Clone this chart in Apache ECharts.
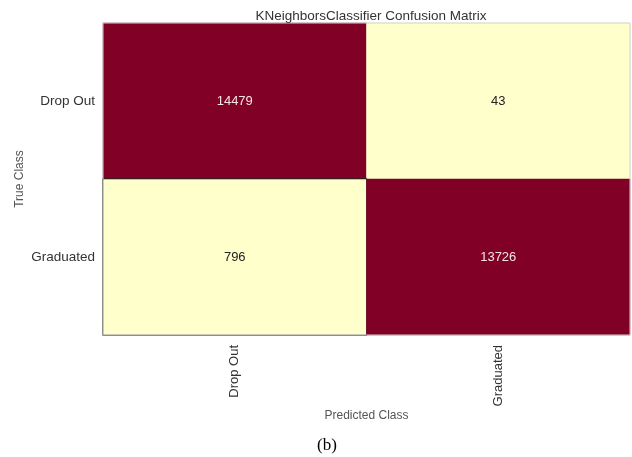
<!DOCTYPE html>
<html>
<head>
<meta charset="utf-8">
<script src="https://cdn.jsdelivr.net/npm/echarts@6/dist/echarts.min.js"></script>
<style>
  html, body { margin: 0; padding: 0; background: #fff; }
  #chart { width: 632px; height: 457px; }
</style>
</head>
<body>
<div id="chart"></div>
<script>
// Class labels (rows = true class, columns = predicted class)
const classes = ['Drop Out', 'Graduated'];
// Confusion matrix counts, one row per true class
const rowDropOut = [14479, 43];
const rowGraduated = [796, 13726];
const matrix = [rowDropOut, rowGraduated];

const DARK = '#800026';
const LIGHT = '#ffffcc';
const threshold = 5000;

const cells = [];
matrix.forEach((row, yi) => {
  row.forEach((v, xi) => {
    const item = {
      value: [xi, yi, v],
      label: { color: v >= threshold ? '#f3e3e7' : '#222' }
    };
    if (xi === 0 && yi === 1) {
      item.itemStyle = { borderColor: '#111', borderWidth: 1 };
    }
    cells.push(item);
  });
});

const chart = echarts.init(document.getElementById('chart'), null, { renderer: 'canvas' });
chart.setOption({
  animation: false,
  backgroundColor: '#fff',
  textStyle: { fontFamily: 'Liberation Sans, Arial, sans-serif' },
  title: [
    {
      text: 'KNeighborsClassifier Confusion Matrix',
      left: 366, top: 4, textAlign: 'center',
      textStyle: { fontSize: 13.5, fontWeight: 'normal', color: '#333', fontFamily: 'Liberation Sans' }
    },
    {
      text: '(b)',
      left: 322, top: 432, textAlign: 'center',
      textStyle: { fontSize: 17, fontWeight: 'normal', color: '#000', fontFamily: 'Liberation Serif' }
    }
  ],
  grid: {
    left: 103, top: 23, right: 2, bottom: 122, z: 5,
    outerBoundsMode: 'none',
    show: true, borderColor: '#d0d0d0', borderWidth: 1, backgroundColor: 'transparent'
  },
  xAxis: {
    type: 'category',
    data: classes,
    name: 'Predicted Class',
    nameLocation: 'middle',
    nameGap: 75,
    nameMoveOverlap: false,
    nameTextStyle: { fontSize: 12, color: '#555' },
    axisLine: { show: false },
    axisTick: { show: false },
    splitLine: { show: false },
    axisLabel: { rotate: 90, fontSize: 13, color: '#333', margin: 10 }
  },
  yAxis: {
    type: 'category',
    data: classes,
    inverse: true,
    name: 'True Class',
    nameLocation: 'middle',
    nameGap: 77,
    nameMoveOverlap: false,
    nameTextStyle: { fontSize: 12, color: '#555' },
    axisLine: { show: false },
    axisTick: { show: false },
    splitLine: { show: false },
    axisLabel: { fontSize: 13.5, color: '#333', margin: 8 }
  },
  visualMap: {
    show: false,
    type: 'piecewise',
    dimension: 2,
    pieces: [
      { lt: threshold, color: LIGHT },
      { gte: threshold, color: DARK }
    ]
  },
  series: [{
    type: 'heatmap',
    data: cells,
    label: { show: true, fontSize: 13 },
    emphasis: { disabled: true }
  }]
});
</script>
</body>
</html>
